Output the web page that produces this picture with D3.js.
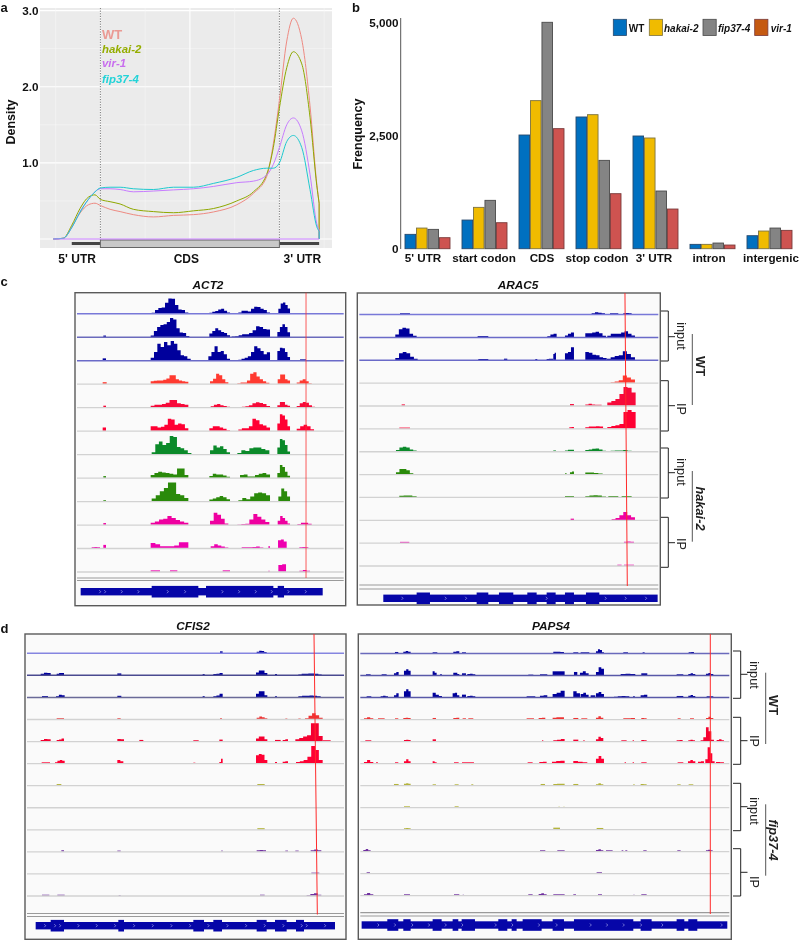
<!DOCTYPE html>
<html><head><meta charset="utf-8">
<script src="https://cdn.jsdelivr.net/npm/d3@7/dist/d3.min.js"></script>
<style>
html,body{margin:0;padding:0;background:#fff}
svg{display:block;font-family:"Liberation Sans",Arial,sans-serif;filter:blur(0.35px)}
</style></head><body><svg id="c" width="799" height="940"></svg>
<script>
// ---------- Panel a data: metagene position (0 = CDS start, 1 = CDS end), density
const metaPos = [-0.263,-0.207,-0.16,-0.114,-0.067,-0.03,0,0.054,0.11,0.184,0.296,0.408,0.52,0.631,0.762,0.855,0.929,0.966,1.0,1.041,1.078,1.125,1.171,1.209,1.222];
const densWT    = [0,0.01,0.16,0.34,0.45,0.47,0.44,0.39,0.36,0.32,0.29,0.31,0.32,0.355,0.45,0.60,0.82,1.25,1.82,2.6,2.9,2.62,1.75,0.72,0.47];
const densHakai = [0,0.01,0.18,0.40,0.55,0.58,0.52,0.49,0.46,0.39,0.36,0.345,0.37,0.40,0.50,0.62,0.85,1.2,1.72,2.25,2.46,2.3,1.6,0.7,0.47];
const densVir   = [0,0.01,0.15,0.36,0.52,0.62,0.66,0.66,0.65,0.62,0.63,0.645,0.66,0.69,0.74,0.76,0.84,0.98,1.2,1.5,1.59,1.42,0.85,0.2,0.12];
const densFip   = [0,0.01,0.15,0.35,0.52,0.62,0.67,0.68,0.68,0.66,0.65,0.68,0.68,0.73,0.81,0.9,0.93,0.93,1.0,1.28,1.36,1.2,0.65,0.16,0.1];
const densityNames = ["WT","hakai-2","vir-1","fip37-4"];
const densityTicks = [1,2,3];
const regionLabels = ["5' UTR","CDS","3' UTR"];
const regionCenters = [-0.13,0.48,1.128];

// ---------- Panel b data
const features = ["5' UTR","start codon","CDS","stop codon","3' UTR","intron","intergenic"];
const strains = ["WT","hakai-2","fip37-4","vir-1"];
const freqWT    = [317,633,2511,2909,2489,96,287];
const freqHakai = [456,913,3270,2960,2445,96,390];
const freqFip   = [427,1068,5000,1951,1274,125,456];
const freqVir   = [243,574,2651,1215,876,81,405];
const freqTicks = [0,2500,5000];

// ---------- Browser tracks: each track = list of [start, end, [signal…]]
const act2Tracks = [
 [[275,385,[2,10,16,18,32,45,44,25,12,10,3]],[448,510,[2,5,7,12,14,8,3]],[535,630,[3,8,8,6,14,20,19,14,10,3]],[655,690,[14,30,33,25,15]]],
 [[130,138,[4]],[272,388,[4,18,30,36,38,45,57,52,26,13,12,3]],[448,510,[10,18,26,20,15,12,5]],[515,630,[1,2,5,8,8,12,20,32,30,24,22]],[652,690,[15,30,38,30,14]]],
 [[128,138,[6]],[272,392,[8,25,50,40,55,45,58,50,30,15,12,5]],[445,510,[12,25,42,25,28,18,5]],[535,630,[2,5,8,12,25,42,36,28,18,24]],[652,690,[28,38,36,25,10]],[720,738,[3,3]]],
 [[128,140,[5]],[272,385,[8,9,10,10,12,16,26,26,14,10,8,6]],[450,505,[8,15,30,26,14,5]],[532,628,[2,4,4,10,30,35,22,14,8,3]],[653,690,[14,28,28,14,10]],[710,755,[4,10,14,8,2]]],
 [[130,138,[5]],[272,385,[5,8,8,10,14,22,22,12,10,8]],[452,510,[3,8,10,6,4,2]],[535,630,[1,2,3,6,12,15,13,10,4]],[652,690,[6,16,16,8,5]],[710,765,[4,12,16,14,6,2]]],
 [[128,138,[10]],[272,385,[14,14,10,12,18,36,34,18,22,20,8]],[448,510,[8,14,14,10,6,2]],[535,630,[4,8,8,14,36,32,20,16,10]],[652,690,[22,50,46,34,14]],[710,762,[6,14,18,14,5]]],
 [[275,405,[6,30,38,28,34,55,52,22,18,12,4,1]],[450,510,[12,26,20,24,16,6]],[532,628,[4,12,10,18,20,20,16,12]],[652,690,[20,46,42,28,8]]],
 [[130,138,[5]],[272,385,[8,14,18,16,14,12,10,28,28,8]],[448,510,[5,12,10,10,7,3]],[540,630,[8,10,4,4,8,12,14,10]],[652,690,[14,38,32,18,6]]],
 [[130,138,[3]],[275,385,[8,18,30,40,56,56,22,18,10]],[448,510,[5,8,12,16,12,6]],[535,630,[3,10,6,14,24,26,24,18]],[655,690,[14,38,30,14]]],
 [[130,138,[5]],[272,385,[6,10,16,18,26,20,14,10,6]],[450,505,[12,36,30,18,4]],[532,628,[1,2,3,16,32,24,16,8]],[653,690,[12,26,20,12,4]],[712,755,[2,6,6,3]]],
 [[95,120,[3,4,3]],[130,138,[10]],[272,385,[16,12,6,6,6,8,18,18]],[452,505,[6,12,8,5,2]],[545,610,[3,3,3,4,5,2]],[625,630,[6]],[654,680,[24,26,20]],[718,745,[3,4,3]]],
 [[272,300,[4,4]],[330,352,[4,4]],[488,510,[4,4]],[625,629,[3]],[655,678,[20,22]],[718,750,[3,5,3]]]
];
const arac5Tracks = [
 [[150,180,[3,3,3]],[725,765,[3,6,5,3]],[780,805,[3,3]],[820,845,[3,4,3]]],
 [[136,200,[8,24,28,26,10,4]],[383,415,[3,3,3]],[592,620,[3,8,10]],[645,672,[5,10,14]],[706,768,[12,12,14,16,12,4]],[772,855,[4,10,10,10,14,18,10,5]]],
 [[136,203,[6,20,24,20,10,4]],[385,415,[3,3,3]],[462,472,[4]],[556,562,[3]],[590,610,[3,4,4]],[610,618,[18,22]],[645,672,[20,24,38]],[706,770,[24,22,16,14,8,6]],[770,855,[4,8,12,14,26,18,8]]],
 [[782,855,[2,4,8,22,16,10]]],
 [[155,165,[4]],[660,672,[5,5]],[706,755,[4,6,4,3,3]],[772,857,[10,14,20,35,56,54,40]]],
 [[148,180,[3,3,3]],[658,672,[4,5]],[706,770,[4,6,6,7,6,2]],[772,857,[5,8,10,14,50,56,50]]],
 [[138,200,[4,12,14,12,6,3]],[610,618,[3]],[645,672,[3,5,5]],[706,768,[4,6,8,9,6,2]],[782,845,[2,3,3,4,2]]],
 [[138,190,[6,16,16,12,3]],[645,650,[3]],[660,672,[6,8]],[706,758,[5,5,4,2]]],
 [[148,200,[4,5,5,3]],[645,672,[3,3,3]],[706,768,[3,5,6,5,2]],[775,805,[3,3]],[815,845,[3,3]]],
 [[662,672,[4]],[785,855,[2,6,14,24,14,8]]],
 [[150,178,[3,3,3]],[822,852,[3,4,3]]],
 [[802,815,[3]],[822,852,[3,3,3]]]
];
const cfis2Tracks = [
 [[660,668,[5]],[770,800,[4,7,6,3]]],
 [[122,152,[4,7,6]],[170,192,[4,6,6]],[352,364,[5]],[608,614,[3]],[640,668,[3,4,6]],[768,802,[8,14,14,6]],[825,831,[3]],[895,965,[2,4,4,5,5,4,2]]],
 [[126,144,[3,3]],[168,194,[3,7,6]],[352,364,[4]],[608,614,[3]],[640,668,[3,5,10]],[768,802,[10,18,18,6]],[825,831,[3]],[895,962,[3,4,4,5,4,3]]],
 [[170,192,[3,3,3]],[352,362,[3]],[660,666,[3]],[770,802,[4,8,6,3]],[856,862,[2]],[895,902,[2]],[915,968,[3,10,18,12,4]]],
 [[122,152,[4,7,6]],[170,192,[4,5,8]],[352,372,[7,6]],[418,430,[4]],[580,596,[3,3]],[658,668,[5]],[768,802,[8,14,14,6]],[825,842,[4,4]],[848,864,[4,6]],[886,968,[6,10,14,18,54,54,16]],[968,992,[3,3]]],
 [[125,150,[3,3]],[165,194,[3,8,10,8]],[352,370,[10,6]],[580,586,[2]],[658,668,[4,14]],[768,802,[24,28,26,10]],[825,831,[4]],[848,864,[5,6]],[888,968,[4,6,10,20,52,40,10]]],
 [[170,184,[4,4]],[772,794,[4,4,4]]],
 [],
 [[772,794,[4,4,4]]],
 [[184,192,[4]],[352,362,[3]],[664,668,[3]],[770,798,[4,5,4]],[856,864,[3]],[886,896,[3]],[932,964,[4,6,4]]],
 [[934,958,[3,3]]],
 [[126,148,[3,3]],[172,194,[3,3]],[356,362,[2]],[780,794,[3,3]],[920,964,[2,5,7,3]]]
];
const paps4Tracks = [
 [[135,145,[4]],[160,182,[5,7,5]],[248,262,[3]],[310,328,[5,6]],[336,348,[3]],[610,642,[5,5,4]],[670,685,[3]],[692,718,[3,3]],[738,762,[6,12,10,3]],[820,834,[3]],[878,884,[3]],[1016,1032,[3,4]]],
 [[48,62,[3]],[95,110,[3]],[132,146,[6,10]],[162,182,[14,18,14]],[248,260,[12,8]],[270,276,[3]],[310,328,[8,8,4]],[336,348,[6]],[352,376,[4,5,3]],[535,550,[2]],[570,592,[3,3]],[608,644,[12,12,12]],[672,682,[10]],[690,716,[8,12,6]],[738,762,[10,24,20]],[812,856,[4,5,4]],[874,892,[6,6]],[980,1000,[3,3]],[1015,1036,[4,6,4]],[1068,1090,[5,7,4]]],
 [[50,64,[3]],[92,114,[3,5,3]],[132,146,[6,12]],[162,182,[18,24,18]],[248,276,[14,8,4]],[308,328,[12,14,6]],[336,348,[8]],[352,376,[4,5,3]],[530,556,[3,3]],[570,592,[5,6]],[608,644,[10,14,20]],[670,690,[18,12]],[692,716,[10,14,8]],[722,736,[6]],[738,762,[12,16,10]],[792,838,[2,3,4,3]],[850,854,[4]],[872,892,[6,8]],[980,1000,[4,4]],[1015,1036,[5,7,4]],[1070,1090,[3,3]]],
 [[42,70,[3,6,3]],[84,104,[3,3]],[135,145,[3]],[160,182,[4,5,4]],[248,258,[4]],[310,328,[4,5]],[338,348,[3]],[355,370,[3]],[530,552,[3,3]],[566,586,[4,5]],[608,642,[5,6,6]],[670,685,[4]],[694,712,[3,3]],[738,760,[5,9,5]],[820,855,[3,3,4]],[874,890,[4,3]],[983,992,[3]],[1020,1032,[3]],[1068,1090,[4,8,4]]],
 [[46,64,[3,3]],[162,182,[4,5,4]],[248,258,[6]],[576,580,[3]],[610,644,[3,5,7]],[670,685,[5]],[700,704,[3]],[738,760,[6,14,10]],[814,830,[3]],[848,852,[3]],[874,890,[4,3]],[980,998,[3,4]],[1015,1035,[3,5,3]],[1052,1092,[3,12,42,30,5]],[1100,1122,[4,6,3]]],
 [[42,70,[4,10,4]],[78,84,[3]],[135,145,[3]],[162,182,[6,12,6]],[248,260,[6,3]],[312,326,[3]],[336,372,[3,3,3]],[533,548,[3]],[568,590,[4,5]],[606,644,[5,7,8]],[670,712,[7,5,3]],[738,762,[14,22,14]],[824,828,[3]],[848,852,[3]],[874,890,[3,3]],[983,1000,[3]],[1014,1036,[6,10,6]],[1044,1062,[5,6]],[1066,1094,[12,48,30,6]],[1098,1122,[4,3]]],
 [[132,146,[4]],[162,182,[5,6,5]],[248,258,[3]],[314,326,[3,3]],[364,370,[3]],[572,585,[4]],[610,644,[4,5,5]],[670,685,[4]],[738,760,[3,6,3]],[850,854,[3]],[872,890,[4,3]],[982,992,[3]],[1016,1030,[3]]],
 [[162,180,[3,3]],[314,326,[3]],[625,630,[2]],[640,644,[2]]],
 [[162,182,[3,4,3]],[610,630,[5,5]],[740,760,[4,4]]],
 [[40,62,[4,7,3]],[570,586,[3]],[622,644,[3,3]],[738,760,[4,6,3]],[768,788,[3,3]],[815,820,[3]],[826,832,[3]],[880,890,[3]],[982,992,[3]],[1068,1088,[3,5,3]]],
 [[50,60,[3]],[740,756,[3,3]]],
 [[42,70,[3,7,3]],[162,180,[3,3]],[312,328,[3,3]],[338,342,[2]],[535,548,[3]],[566,590,[4,6,3]],[610,644,[3,3,3]],[670,678,[3]],[744,756,[3]],[850,854,[2]],[874,890,[3,3]]]
];

// ---------- Gene models: transcript span, coding blocks, strand marks (browser coordinates)
const act2Span = [62,788];
const act2Exons = [[275,415],[438,640],[653,672]];
const act2Marks = [120,135,185,235,323,375,487,537,587,635,685,737];
const arac5Span = [100,923];
const arac5Exons = [[200,240],[380,415],[447,490],[532,560],[590,617],[645,672],[708,748]];
const arac5Marks = [157,287,348,590,767,827,888];
const cfis2Span = [107,1005];
const cfis2Exons = [[152,192],[355,372],[580,612],[640,666],[770,800],[825,860],[888,912]];
const cfis2Marks = [135,165,180,235,290,345,402,458,514,570,625,682,738,794,850,905,920,975];
const paps4Span = [35,1132];
const paps4Exons = [[112,145],[160,182],[248,275],[308,325],[335,375],[445,472],[485,500],[518,575],[608,642],[672,850],[872,905],[980,1003],[1015,1042]];
const paps4Marks = [85,135,187,237,287,337,437,487,567,620,722,771,821,873,937,1115];

// ---------- Colours
const densityColors = ["#ee8a82","#8fa800","#c77cff","#1fc9cf"];
const densityLegendColors = ["#ea9a94","#95ad00","#c86dee","#22d3d8"];
const barColors = ["#0070c0","#f0bb00","#848484","#ce5350"];
const barStrokes = ["#27496d","#7d7340","#4a4a4a","#7a3a3a"];
const legendColors = ["#0070c0","#f0bb00","#848484","#c55a11"];
const tracksC = ["#00009c","#00009c","#00009c","#ff3a30","#f70a3a","#ff0033","#0b8a2a","#2a8a0a","#2a8a0a","#ef00a0","#ef00b0","#ef00b0"];
const tracksD = ["#00009c","#00009c","#00009c","#ee3333","#f50030","#ff0033","#b4b43c","#b4b43c","#b4b43c","#7030a0","#7030a0","#7030a0"];

const svg = d3.select("#c");
function txt(g,x,y,s,size,o={}){
  const t=g.append("text").attr("x",x).attr("y",y).attr("font-size",size).text(s);
  if(o.bold)t.attr("font-weight","bold");
  if(o.italic)t.attr("font-style","italic");
  if(o.anchor)t.attr("text-anchor",o.anchor);
  t.attr("fill",o.fill||"#111");
  if(o.rotate!==undefined)t.attr("transform",`rotate(${o.rotate},${x},${y})`);
  return t;
}
[["a",0.5,12],["b",352,12],["c",0.5,286],["d",0.5,632.5]].forEach(d=>txt(svg,d[1],d[2],d[0],13,{bold:true}));

// ---------- Panel a
(function(){
  const x=d3.scaleLinear().domain([0,1]).range([100.4,279.4]);
  const y=d3.scaleLinear().domain([0,3]).range([239,10.6]);
  const g=svg.append("g");
  g.append("rect").attr("x",40).attr("y",8).attr("width",292).attr("height",240).attr("fill","#ebebeb");
  [0.5,1.5,2.5].forEach(v=>g.append("line").attr("x1",40).attr("x2",332).attr("y1",y(v)).attr("y2",y(v)).attr("stroke","#f6f6f6").attr("stroke-width",.6));
  [0,1,2,3].forEach(v=>g.append("line").attr("x1",40).attr("x2",332).attr("y1",y(v)).attr("y2",y(v)).attr("stroke","#fff").attr("stroke-width",1.1));
  [-0.25,0.25,0.75,1.25].forEach(v=>g.append("line").attr("x1",x(v)).attr("x2",x(v)).attr("y1",8).attr("y2",248).attr("stroke","#f6f6f6").attr("stroke-width",.6));
  [0,0.5,1].forEach(v=>g.append("line").attr("x1",x(v)).attr("x2",x(v)).attr("y1",8).attr("y2",248).attr("stroke","#fff").attr("stroke-width",1.1));
  [0,1].forEach(v=>g.append("line").attr("x1",x(v)).attr("x2",x(v)).attr("y1",8).attr("y2",240).attr("stroke","#555").attr("stroke-width",.8).attr("stroke-dasharray","1.2,1.4"));
  g.append("rect").attr("x",x(-0.16)).attr("y",242).attr("width",x(0)-x(-0.16)).attr("height",3).attr("fill","#444");
  g.append("rect").attr("x",x(1)).attr("y",242).attr("width",x(1.222)-x(1)).attr("height",3).attr("fill","#444");
  g.append("rect").attr("x",x(0)).attr("y",240).attr("width",x(1)-x(0)).attr("height",7.5).attr("fill","#c9c9c9").attr("stroke","#666").attr("stroke-width",1);
  const line=d3.line().x(d=>x(d[0])).y(d=>y(d[1])).curve(d3.curveMonotoneX);
  [densWT,densHakai,densVir,densFip].forEach((s,i)=>{
    g.append("path").attr("d",line(metaPos.map((p,j)=>[p,s[j]]))).attr("fill","none").attr("stroke",densityColors[i]).attr("stroke-width",1);
    const last=metaPos.length-1;
    g.append("line").attr("x1",x(metaPos[last])).attr("x2",x(metaPos[last])).attr("y1",y(s[last])).attr("y2",y(0)).attr("stroke",densityColors[i]).attr("stroke-width",1);
  });
  g.append("line").attr("x1",x(metaPos[0])).attr("x2",x(metaPos[metaPos.length-1])).attr("y1",y(0)).attr("y2",y(0)).attr("stroke",densityColors[2]).attr("stroke-width",1.1);
  const ax=g.append("g").attr("transform","translate(38.5,0)").call(d3.axisLeft(y).tickValues(densityTicks).tickSize(0).tickPadding(0).tickFormat(d3.format(".1f")));
  ax.select(".domain").remove();
  ax.selectAll("text").attr("font-size",11.7).attr("font-weight","bold").attr("font-family","Liberation Sans").attr("fill","#111");
  txt(g,14.5,122,"Density",12.5,{bold:true,anchor:"middle",rotate:-90});
  regionLabels.forEach((s,i)=>txt(g,x(regionCenters[i]),262.5,s,12,{bold:true,anchor:"middle"}));
  const ly=[38.5,52.5,66.5,83];
  densityNames.forEach((s,i)=>txt(g,102,ly[i],s,i===0?13:11.4,{bold:true,italic:i>0,fill:densityLegendColors[i]}));
})();

// ---------- Panel b
(function(){
  const x0=d3.scaleBand().domain(features).range([405,792]).paddingInner(12/57);
  const x1=d3.scaleBand().domain(strains).range([0,x0.bandwidth()]).paddingInner(.08);
  const y=d3.scaleLinear().domain([0,5000]).range([248.7,22.3]);
  const g=svg.append("g");
  g.append("line").attr("x1",400.7).attr("x2",400.7).attr("y1",18).attr("y2",249).attr("stroke","#555").attr("stroke-width",1);
  const ax=g.append("g").attr("transform","translate(398.5,0)").call(d3.axisLeft(y).tickValues(freqTicks).tickSize(0).tickPadding(0).tickFormat(d3.format(",")));
  ax.select(".domain").remove();
  ax.selectAll("text").attr("font-size",11.7).attr("font-weight","bold").attr("font-family","Liberation Sans").attr("fill","#111");
  txt(g,362,134,"Frenquency",12.5,{anchor:"middle",rotate:-90,bold:true});
  [freqWT,freqHakai,freqFip,freqVir].forEach((vals,si)=>{
    g.selectAll(null).data(vals).enter().append("rect")
      .attr("x",(d,i)=>x0(features[i])+x1(strains[si]))
      .attr("y",d=>y(d)).attr("width",x1.bandwidth())
      .attr("height",d=>y(0)-y(d)).attr("fill",barColors[si])
      .attr("stroke",barStrokes[si]).attr("stroke-width",.9);
  });
  const nudge=[-4.5,-.5,.5,-1.5,-1.5,-3.5,1.5];
  features.forEach((f,i)=>txt(g,x0(f)+x0.bandwidth()/2+nudge[i],262,f,11.7,{bold:true,anchor:"middle"}));
  const lx=[613.3,649.3,703,754.7],tx=[628.7,664,718,770.7];
  strains.forEach((s,i)=>{
    g.append("rect").attr("x",lx[i]).attr("y",19.3).attr("width",13.2).attr("height",16.2).attr("fill",legendColors[i]).attr("stroke",barStrokes[i]).attr("stroke-width",.8);
    txt(g,tx[i],31.5,s,10,{bold:true,italic:i>0});
  });
})();

// ---------- Browser panels
function browser(o){
  const x=d3.scaleLinear().domain(o.zx).range(o.px);
  const y=d3.scaleLinear().domain([0,11]).range(o.base);
  const h=d3.scaleLinear().domain([0,3]).range([0,1]);
  const g=svg.append("g");
  g.append("rect").attr("x",o.px[0]).attr("y",o.py[0]).attr("width",o.px[1]-o.px[0]).attr("height",o.py[1]-o.py[0]).attr("fill","#fafafa").attr("stroke","#5a5a5a").attr("stroke-width",1.4);
  txt(g,o.titleX,o.titleY,o.title,11.8,{bold:true,italic:true,anchor:"middle"});
  const lx0=o.px[0]+2,lx1=o.px[1]-2;
  const area=d3.area().x(d=>x(d[0])).curve(d3.curveStepAfter);
  o.tracks.forEach((peaks,i)=>{
    const by=y(i);
    let lc="#d2d2d2",lw=1.3;
    if(i<3){lc=o.blueLines[i];lw=1.5;}
    peaks.forEach(p=>{
      const n=p[2].length,st=(p[1]-p[0])/n;
      const pts=p[2].map((v,k)=>[p[0]+k*st,v]);
      pts.push([p[1],0]);
      area.y0(by).y1(d=>by-h(d[1]));
      g.append("path").attr("d",area(pts)).attr("fill",o.colors[i]);
    });
    g.append("line").attr("x1",lx0).attr("x2",lx1).attr("y1",by+.3).attr("y2",by+.3).attr("stroke",lc).attr("stroke-width",lw);
  });
  o.sep.forEach(s=>g.append("line").attr("x1",lx0).attr("x2",lx1).attr("y1",s).attr("y2",s).attr("stroke","#9a9a9a").attr("stroke-width",1.2));
  g.append("line").attr("x1",x(o.red[0])).attr("x2",x(o.red[1])).attr("y1",o.py[0]).attr("y2",o.red[2]).attr("stroke",o.redCol).attr("stroke-width",1);
  const gy=o.geneY,col="#0606a8";
  g.append("rect").attr("x",x(o.span[0])).attr("y",gy-3.7).attr("width",x(o.span[1])-x(o.span[0])).attr("height",7.4).attr("fill",col);
  o.exons.forEach(e=>g.append("rect").attr("x",x(e[0])).attr("y",gy-5.8).attr("width",x(e[1])-x(e[0])).attr("height",11.6).attr("fill",col));
  o.marks.forEach(m=>g.append("path").attr("d",`M${x(m)-.7},${gy-1.5}L${x(m)+.7},${gy}L${x(m)-.7},${gy+1.5}`).attr("fill","none").attr("stroke","#cfd2ff").attr("stroke-width",.55));
}
const ACT2={title:"ACT2",titleX:208,titleY:289,zx:[45,857],px:[75,345.7],py:[292.7,605.7],base:[313.4,571.7],tracks:act2Tracks,colors:tracksC,blueLines:["#7878d8","#6a6abc","#6a6ac8"],sep:[578,580.5],red:[738,738,578],redCol:"rgba(250,50,50,.8)",geneY:591.7,span:act2Span,exons:act2Exons,marks:act2Marks};
const ARAC5={title:"ARAC5",titleX:518,titleY:289,zx:[22,931],px:[357.3,660.3],py:[293,605],base:[314.3,565.7],tracks:arac5Tracks,colors:tracksC,blueLines:["#7878d8","#6a6ac8","#6a6ac8"],sep:[585,589],red:[825,832,586],redCol:"#ff2a2a",geneY:598.3,span:arac5Span,exons:arac5Exons,marks:arac5Marks};
const CFIS2={title:"CFIS2",titleX:193,titleY:630,zx:[75,1038],px:[25,346],py:[634,939.3],base:[653,895.7],tracks:cfis2Tracks,colors:tracksD,blueLines:["#8585e0","#4a4a90","#6a6a98"],sep:[913.5,916.5],red:[942,952,914.5],redCol:"#ff2a2a",geneY:925.7,span:cfis2Span,exons:cfis2Exons,marks:cfis2Marks};
const PAPS4={title:"PAPS4",titleX:551,titleY:630,zx:[25,1144],px:[358.3,731.3],py:[634,939.3],base:[653.3,895.3],tracks:paps4Tracks,colors:tracksD,blueLines:["#6a6abc","#5858a8","#5858a8"],sep:[912.7,916],red:[1081,1081,914],redCol:"#ff2a2a",geneY:925,span:paps4Span,exons:paps4Exons,marks:paps4Marks};
[ACT2,ARAC5,CFIS2,PAPS4].forEach(browser);

// ---------- Replicate brackets and group labels
function bracket(xa,xb,xt,y0,y1,ym){
  svg.append("path").attr("d",`M${xa},${y0}H${xb}V${y1}H${xa}M${xb},${ym}H${xt}`).attr("fill","none").attr("stroke","#222").attr("stroke-width",1);
}
function rot(x,y,s,o={}){txt(svg,x,y,s,o.size||12.8,{anchor:"middle",rotate:90,bold:o.bold,italic:o.italic,fill:"#222"});}
const groupC=[[311,361,336.7,"input",336],[380.7,431,405.7,"IP",409],[448,498,472.7,"input",472],[517.3,567.3,542.7,"IP",544]];
groupC.forEach(d=>{bracket(661,668.3,675,d[0],d[1],d[2]);rot(677,d[4],d[3]);});
[[334,405,"WT",366,false],[471,541.7,"hakai-2",508.5,true]].forEach(d=>{
  svg.append("line").attr("x1",692.3).attr("x2",692.3).attr("y1",d[0]).attr("y2",d[1]).attr("stroke","#555").attr("stroke-width",1);
  rot(696,d[3],d[2],{bold:true,italic:d[4]});
});
const groupD=[[651,698.3,674.3,"input",675],[717.3,764.3,740.7,"IP",741],[783.3,830.7,806.7,"input",811],[848.7,896,872.3,"IP",882]];
groupD.forEach(d=>{bracket(733,740.7,747.5,d[0],d[1],d[2]);rot(750,d[4],d[3]);});
[[672.7,744,"WT",705,false],[804.3,875.7,"fip37-4",840,true]].forEach(d=>{
  svg.append("line").attr("x1",765.7).attr("x2",765.7).attr("y1",d[0]).attr("y2",d[1]).attr("stroke","#555").attr("stroke-width",1);
  rot(769,d[3],d[2],{bold:true,italic:d[4]});
});
</script></body></html>
